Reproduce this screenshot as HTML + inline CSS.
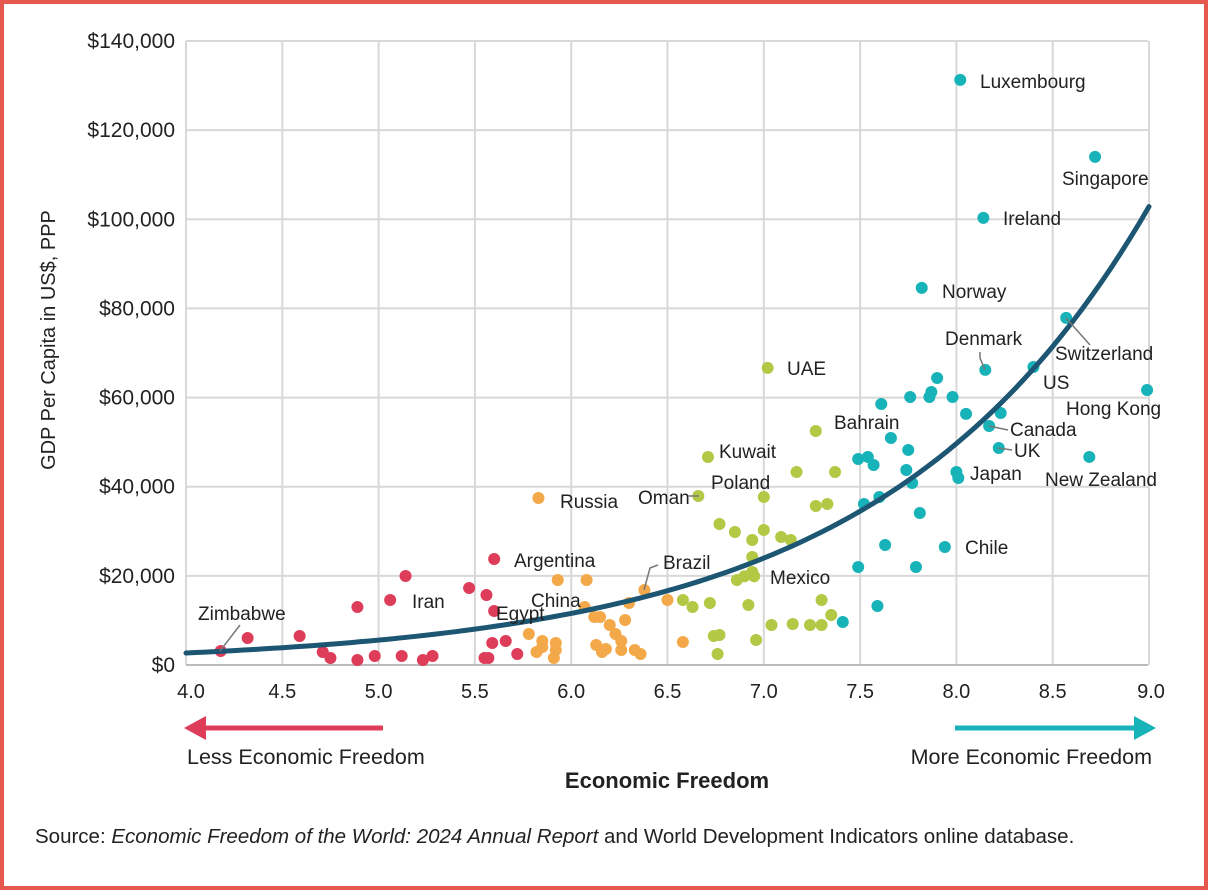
<!DOCTYPE html>
<html><head><meta charset="utf-8"><style>
html,body{margin:0;padding:0;background:#fff}
#frame{position:absolute;left:0;top:0;width:1200px;height:882px;border:4px solid #e6574f;background:#fff}
svg{position:absolute;left:0;top:0}
text{font-family:"Liberation Sans",sans-serif;fill:#222}
</style></head><body>
<div id="frame"></div>
<svg id="chart" width="1208" height="890"></svg>
<script>
const yTicks=[0,20000,40000,60000,80000,100000,120000,140000];
const yTickLabels=["$0","$20,000","$40,000","$60,000","$80,000","$100,000","$120,000","$140,000"];
const xTicks=[4.0,4.5,5.0,5.5,6.0,6.5,7.0,7.5,8.0,8.5,9.0];
const xTickLabels=["4.0","4.5","5.0","5.5","6.0","6.5","7.0","7.5","8.0","8.5","9.0"];
const redFreedom=[4.18,4.32,4.59,4.71,4.75,4.89,4.89,4.98,5.06,5.12,5.14,5.23,5.28,5.47,5.56,5.60,5.55,5.57,5.59,5.66,5.72,5.60];
const redGdp=[3140,6060,6510,2920,1570,13000,1120,2020,14590,2020,19970,1120,2020,17280,15710,12120,1570,1570,4940,5390,2470,23790];
const orangeFreedom=[5.83,5.93,6.08,5.78,5.85,5.85,5.92,5.91,5.82,5.92,6.07,6.12,6.15,6.20,6.23,6.26,6.28,6.13,6.18,6.16,6.26,6.33,6.36,6.30,6.38,6.50,6.58];
const orangeGdp=[37480,19070,19070,6960,5390,4040,4940,1570,2920,3370,13000,10770,10770,8980,6960,5390,10100,4490,3590,2920,3370,3370,2470,13910,16830,14590,5160];
const greenFreedom=[6.66,6.71,7.00,6.77,6.85,7.00,6.94,6.94,6.94,6.95,6.90,6.86,7.09,7.14,6.58,6.72,6.63,7.04,7.15,7.30,7.24,6.77,6.96,6.76,6.92,7.30,7.35,7.27,7.17,7.37,7.27,7.33,7.02,6.74];
const greenGdp=[37920,46670,37700,31640,29850,30300,28050,24240,20870,19900,19900,19070,28720,28050,14590,13910,13000,8980,9200,8980,8980,6730,5610,2470,13460,14590,11220,52510,43310,43310,35680,36130,66650,6500];
const tealFreedom=[7.90,7.76,7.86,7.87,7.98,7.61,8.15,8.05,8.23,8.17,8.22,8.00,8.01,7.66,7.75,7.49,7.54,7.57,7.74,7.77,7.52,7.60,7.81,7.63,7.94,7.49,7.79,7.59,7.41,8.99,8.69,8.40,8.57,8.72,8.14,7.82,8.02];
const tealGdp=[64400,60140,60140,61260,60140,58570,66200,56330,56550,53630,48690,43310,41960,50940,48250,46230,46680,44880,43760,40840,36130,37700,34110,26930,26480,21990,21990,13240,9650,61710,46680,66870,77870,114000,100310,84600,131280];
const curveBase=[2700];
const curveRate=[0.728];
const labelNames=["Luxembourg","Singapore","Ireland","Norway","Denmark","Switzerland","US","Hong Kong","Canada","UK","Japan","New Zealand","Chile","UAE","Bahrain","Kuwait","Poland","Oman","Russia","Brazil","Mexico","Argentina","China","Egypt","Iran","Zimbabwe"];

const S=document.getElementById('chart');const NS='http://www.w3.org/2000/svg';
function el(t,a,p){const e=document.createElementNS(NS,t);for(const k in a)e.setAttribute(k,a[k]);(p||S).appendChild(e);return e;}
const X=v=>186+(v-4)*192.6, Y=g=>665-g*624/140000;
yTicks.forEach((t,i)=>{
 const l=el('line',{x1:186,x2:1148,y1:Y(t),y2:Y(t),stroke:'#d8d8d8','stroke-width':2});
 
 const tx=el('text',{x:175,y:Y(t)+7,'text-anchor':'end','font-size':21});tx.textContent=yTickLabels[i];
 
});
xTicks.forEach((t,i)=>{
 const l=el('line',{x1:X(t),x2:X(t),y1:41,y2:665,stroke:'#d8d8d8','stroke-width':2});
 
 const tx=el('text',{x:X(t)+(i==0?5:i==10?2:0),y:698,'text-anchor':'middle','font-size':20});tx.textContent=xTickLabels[i];
 
});
const ax=el('line',{x1:186,x2:1148,y1:665,y2:665,stroke:'#bbb','stroke-width':2});

function dots(fx,gy,c,n){fx.forEach((f,i)=>{const d=el('circle',{cx:X(f),cy:Y(gy[i]),r:6,fill:c});
 });}
dots(redFreedom,redGdp,'#de3d5a','point-low-freedom');
dots(orangeFreedom,orangeGdp,'#f3a949','point-mid-low-freedom');
dots(greenFreedom,greenGdp,'#b3c844','point-mid-high-freedom');
dots(tealFreedom,tealGdp,'#17b3b8','point-high-freedom');
let d='';for(let v=4;v<=9.0001;v+=0.05){const g=curveBase[0]*Math.exp(curveRate[0]*(v-4));d+=(d?'L':'M')+X(v).toFixed(1)+','+Y(g).toFixed(1);}
const cv=el('path',{d:d,fill:'none',stroke:'#1d5673','stroke-width':5,'stroke-linecap':'round'});

const lab=[[980,88,'start'],[1062,185,'start'],[1003,225,'start'],[942,298,'start'],[945,345,'start'],[1055,360,'start'],[1043,389,'start'],[1066,415,'start'],[1010,436,'start'],[1014,457,'start'],[970,480,'start'],[1045,486,'start'],[965,554,'start'],[787,375,'start'],[834,429,'start'],[719,458,'start'],[711,489,'start'],[638,504,'start'],[560,508,'start'],[663,569,'start'],[770,584,'start'],[514,567,'start'],[531,607,'start'],[496,620,'start'],[412,608,'start'],[198,620,'start']];
labelNames.forEach((n,i)=>{const t=el('text',{x:lab[i][0],y:lab[i][1],'font-size':19,'text-anchor':lab[i][2]});t.textContent=n;
 });
[[[985,370],[980,358],[980,352]],[[1066,318],[1090,345]],[[989,426],[1008,430]],[[998,448],[1012,450]],[[699,496],[688,496]],[[644,590],[650,568],[658,565]],[[220,651],[240,625]]].forEach(p=>{
 const l=el('polyline',{points:p.map(q=>q.join(',')).join(' '),fill:'none',stroke:'#777','stroke-width':1.5});
 });
let t=el('text',{x:0,y:0,'font-size':20,'text-anchor':'middle',transform:'translate(55,340) rotate(-90)'});t.textContent='GDP Per Capita in US$, PPP';

t=el('text',{x:667,y:788,'font-size':22,'font-weight':'bold','text-anchor':'middle'});t.textContent='Economic Freedom';

let a=el('path',{d:'M383,728 L204,728',stroke:'#de3d5a','stroke-width':5,fill:'none'});

a=el('polygon',{points:'184,728 206,716 206,740',fill:'#de3d5a'});
a=el('path',{d:'M955,728 L1136,728',stroke:'#17b3b8','stroke-width':5,fill:'none'});

a=el('polygon',{points:'1156,728 1134,716 1134,740',fill:'#17b3b8'});
t=el('text',{x:187,y:764,'font-size':21.5});t.textContent='Less Economic Freedom';
t=el('text',{x:1152,y:764,'font-size':21.5,'text-anchor':'end'});t.textContent='More Economic Freedom';
t=el('text',{x:35,y:843,'font-size':20.5});
t.innerHTML='Source: <tspan font-style="italic">Economic Freedom of the World: 2024 Annual Report</tspan> and World Development Indicators online database.';

</script>
</body></html>
